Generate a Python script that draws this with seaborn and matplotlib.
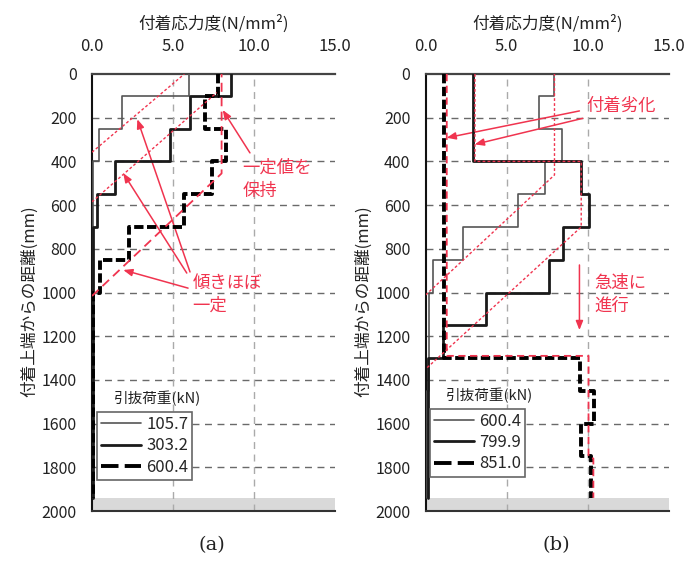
import matplotlib
matplotlib.use("Agg")
import matplotlib.pyplot as plt
import seaborn as sns
import pandas as pd
from matplotlib.lines import Line2D

# ---------------- data ----------------
depth_bounds = [0, 100, 250, 400, 550, 700, 850, 1000, 1150, 1300, 1450, 1600, 1750, 1940]

a_labels = ["105.7", "303.2", "600.4"]
a_105_7 = [6.0, 1.87, 0.43, 0.05, 0.05, 0.05, 0.05, 0.05, 0.05, 0.05, 0.05, 0.05, 0.05]
a_303_2 = [8.6, 6.05, 4.8, 1.4, 0.3, 0.05, 0.05, 0.05, 0.05, 0.05, 0.05, 0.05, 0.05]
a_600_4 = [7.8, 7.0, 8.3, 7.4, 5.7, 2.3, 0.5, 0.08, 0.08, 0.08, 0.08, 0.08, 0.08]

b_labels = ["600.4", "799.9", "851.0"]
b_600_4 = [7.9, 7.0, 8.4, 7.35, 5.7, 2.3, 0.47, 0.2, 0.2, 0.2, 0.05, 0.05, 0.05]
b_799_9 = [2.93, 2.93, 2.93, 9.6, 10.05, 8.5, 7.6, 3.7, 1.08, 0.15, 0.15, 0.15, 0.15]
b_851_0 = [1.15, 1.15, 1.15, 1.15, 1.15, 1.15, 1.15, 1.15, 1.15, 9.5, 10.4, 9.6, 10.2]

# red guide lines (stress, depth)
a_guide1_x = [0.0, 5.7]
a_guide1_y = [358, 0]
a_guide2_x = [0.0, 7.7]
a_guide2_y = [585, 85]
a_guide3_x = [0.0, 8.0, 8.0]
a_guide3_y = [1016, 455, 0]

b_guide1_x = [0.0, 7.95, 7.95]
b_guide1_y = [1011, 462, 0]
b_guide2_x = [3.04, 3.04, 9.6, 9.6, 0.0]
b_guide2_y = [0, 400, 400, 700, 1350]
b_guide3_x = [1.3, 1.3, 10.05, 10.05, 10.35, 10.35]
b_guide3_y = [0, 1290, 1290, 1750, 1760, 1940]

x_ticks = [0, 5, 10, 15]
x_tick_labels = ["0.0", "5.0", "10.0", "15.0"]
y_ticks = list(range(0, 2001, 200))

RED = "#f0344f"
THIN = dict(color="#555555", lw=1.2, ls="-")
MED = dict(color="#1a1a1a", lw=2.0, ls="-")
DASH = dict(color="black", lw=2.8, ls=(0, (2.4, 0.9)))

sns.set_theme(style="white")
plt.rcParams['font.family'] = ['Noto Sans CJK JP', 'DejaVu Sans']

W, H = 688, 565
fig = plt.figure(figsize=(W / 100, H / 100), dpi=100)
axA = fig.add_axes([92 / W, 54 / H, 243 / W, 437 / H])
axB = fig.add_axes([425.7 / W, 54 / H, 243 / W, 437 / H])


def steps(vals):
    xs, ys = [], []
    for i, v in enumerate(vals):
        xs += [v, v]
        ys += [depth_bounds[i], depth_bounds[i + 1]]
    return pd.DataFrame({"stress": xs, "depth": ys})


def setup(ax):
    ax.set_xlim(0, 15)
    ax.set_ylim(2000, 0)
    ax.axhspan(1940, 2000, color="#d9d9d9", zorder=0.5, lw=0)
    for d in y_ticks[1:-1]:
        ax.axhline(d, color="#6a6a6a", lw=1.0, ls=(0, (5, 4)), zorder=0.6)
    for v in x_ticks[1:-1]:
        ax.axvline(v, color="#aaaaaa", lw=1.0, ls=(0, (5, 4)), zorder=0.6)
    ax.xaxis.tick_top()
    ax.xaxis.set_label_position("top")
    ax.set_xticks(x_ticks)
    ax.set_xticklabels(x_tick_labels)
    ax.set_yticks(y_ticks)
    ax.set_yticklabels([str(t) for t in y_ticks])
    ax.tick_params(axis="x", length=0, pad=14, labelsize=12, colors="#222222")
    ax.tick_params(axis="y", length=0, pad=11, labelsize=11.5, colors="#222222")
    ax.set_xlabel("付着応力度(N/mm²)", fontsize=12, labelpad=6, color="#222222")
    ax.set_ylabel("付着上端からの距離(mm)", fontsize=12, color="#222222")
    ax.yaxis.set_label_coords(-0.222, 0.48)
    ax.spines["right"].set_visible(False)
    ax.spines["top"].set_color("#444444")
    ax.spines["top"].set_linewidth(1.6)
    ax.spines["left"].set_color("#111111")
    ax.spines["left"].set_linewidth(1.5)
    ax.spines["bottom"].set_color("#333333")
    ax.spines["bottom"].set_linewidth(1.5)
    ax.grid(False)


for ax in (axA, axB):
    setup(ax)


def draw(ax, vals, style, z):
    df = steps(vals)
    sns.lineplot(data=df, x="stress", y="depth", sort=False, estimator=None,
                 ax=ax, color=style["color"], lw=style["lw"], linestyle=style["ls"],
                 zorder=z, legend=False)


def guide(ax, xs, ys, ls, lw):
    df = pd.DataFrame({"stress": xs, "depth": ys})
    sns.lineplot(data=df, x="stress", y="depth", sort=False, estimator=None,
                 ax=ax, color=RED, lw=lw, linestyle=ls, zorder=4, legend=False)


# panel (a)
draw(axA, a_105_7, THIN, 3)
draw(axA, a_303_2, MED, 3.2)
draw(axA, a_600_4, DASH, 3.4)
guide(axA, a_guide1_x, a_guide1_y, (0, (2, 1.6)), 1.0)
guide(axA, a_guide2_x, a_guide2_y, (0, (2, 1.6)), 1.0)
guide(axA, a_guide3_x, a_guide3_y, (0, (5, 3)), 1.3)

# panel (b)
draw(axB, b_600_4, THIN, 3)
draw(axB, b_799_9, MED, 3.2)
draw(axB, b_851_0, DASH, 3.4)
guide(axB, b_guide1_x, b_guide1_y, (0, (2, 1.6)), 1.0)
guide(axB, b_guide2_x, b_guide2_y, (0, (2, 1.6)), 1.0)
guide(axB, b_guide3_x, b_guide3_y, (0, (4, 2.5)), 1.3)

# annotations
arrow_kw = dict(arrowstyle="-|>,head_length=0.45,head_width=0.18", color=RED, lw=1.1,
                shrinkA=0, shrinkB=0)
axA.annotate("", xy=(8.07, 165), xytext=(9.75, 361), arrowprops=arrow_kw)
axA.text(9.3, 430, "一定値を", color=RED, fontsize=12.5, va="center", ha="left")
axA.text(9.3, 535, "保持", color=RED, fontsize=12.5, va="center", ha="left")
axA.annotate("", xy=(2.8, 207), xytext=(6.05, 906), arrowprops=arrow_kw)
axA.annotate("", xy=(1.93, 454), xytext=(5.85, 911), arrowprops=arrow_kw)
axA.annotate("", xy=(1.93, 897), xytext=(5.93, 980), arrowprops=arrow_kw)
axA.text(6.2, 957, "傾きほぼ", color=RED, fontsize=12.5, va="center", ha="left")
axA.text(6.2, 1060, "一定", color=RED, fontsize=12.5, va="center", ha="left")

axB.annotate("", xy=(1.29, 292), xytext=(9.49, 169), arrowprops=arrow_kw, annotation_clip=False)
axB.annotate("", xy=(3.03, 322), xytext=(9.69, 203), arrowprops=arrow_kw, annotation_clip=False)
axB.text(9.9, 146, "付着劣化", color=RED, fontsize=12.5, va="center", ha="left", clip_on=False)
axB.annotate("", xy=(9.49, 1172), xytext=(9.49, 874), arrowprops=arrow_kw)
axB.text(10.4, 957, "急速に", color=RED, fontsize=12.5, va="center", ha="left")
axB.text(10.4, 1062, "進行", color=RED, fontsize=12.5, va="center", ha="left")


# legends
def make_legend(ax, labels, x0, y0, tx, ty):
    handles = [Line2D([], [], color=THIN["color"], lw=THIN["lw"], ls="-"),
               Line2D([], [], color=MED["color"], lw=MED["lw"], ls="-"),
               Line2D([], [], color=DASH["color"], lw=DASH["lw"], ls=(0, (4.5, 1.6)))]
    leg = ax.legend(handles, labels, loc="upper left",
                    bbox_to_anchor=(x0 / W, 1 - y0 / H), bbox_transform=fig.transFigure,
                    frameon=True, fancybox=False, fontsize=12, handlelength=2.4,
                    handletextpad=0.3, borderpad=0.25, labelspacing=0.25,
                    borderaxespad=0)
    fr = leg.get_frame()
    fr.set_edgecolor("#666666")
    fr.set_linewidth(1.2)
    fr.set_facecolor("white")
    fr.set_alpha(1)
    leg.set_zorder(6)
    fig.text(tx / W, 1 - ty / H, "引抜荷重(kN)", fontsize=10.5, ha="center", va="center",
             color="#222222")


make_legend(axA, a_labels, 97, 412, 158, 398)
make_legend(axB, b_labels, 430, 409, 490, 395)

fig.text(212 / W, 1 - 545 / H, "(a)", fontsize=14, ha="center", va="center",
         family="DejaVu Serif", color="#222222")
fig.text(556 / W, 1 - 545 / H, "(b)", fontsize=14, ha="center", va="center",
         family="DejaVu Serif", color="#222222")

fig.savefig("out.png", dpi=100)
